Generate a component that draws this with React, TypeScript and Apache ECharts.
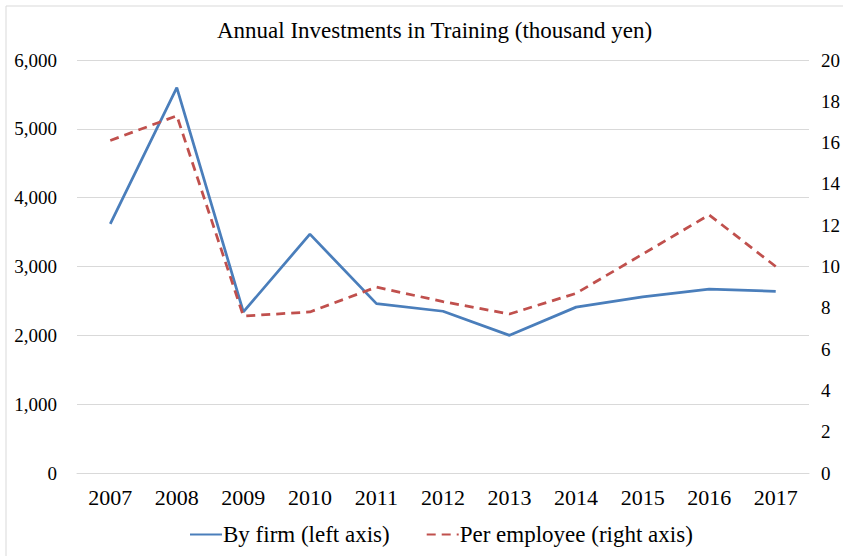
import React, { useEffect, useRef } from "react";
import * as echarts from "echarts";

const years = ["2007", "2008", "2009", "2010", "2011", "2012", "2013", "2014", "2015", "2016", "2017"];
const byFirm = [3620, 5600, 2340, 3470, 2460, 2350, 2000, 2410, 2560, 2670, 2640];
const perEmployee = [16.1, 17.3, 7.6, 7.8, 9.0, 8.3, 7.7, 8.7, 10.6, 12.5, 10.0];
const titleText = "Annual Investments in Training (thousand yen)";
const seriesNames = ["By firm (left axis)", "Per employee (right axis)"];

const FONT = "'Liberation Serif', 'Times New Roman', serif";

export default function App() {
  const ref = useRef<HTMLDivElement>(null);
  useEffect(() => {
    if (!ref.current) return;
    const chart = echarts.init(ref.current, undefined, { renderer: "svg" });
    chart.setOption({
      animation: false,
      backgroundColor: "#ffffff",
      title: {
        text: titleText,
        left: 212,
        top: 14,
        textStyle: { fontFamily: FONT, fontSize: 23, fontWeight: "normal", color: "#000" },
      },
      graphic: [
        {
          type: "rect",
          shape: { x: 6, y: 6, width: 860, height: 580 },
          style: { fill: "none", stroke: "#d9d9d9", lineWidth: 1 },
          silent: true,
        },
      ],
      legend: {
        bottom: 5,
        left: 184,
        itemWidth: 32,
        itemHeight: 14,
        itemGap: 36,
        itemStyle: { opacity: 0 },
        textStyle: { fontFamily: FONT, fontSize: 23, color: "#000", padding: [0, 0, 0, -4] },
        data: seriesNames,
      },
      grid: { left: 77, right: 33, top: 60, bottom: 83, containLabel: false },
      xAxis: {
        type: "category",
        data: years,
        boundaryGap: true,
        axisLine: { show: true, lineStyle: { color: "#d9d9d9", width: 1 } },
        axisTick: { show: false },
        axisLabel: { fontFamily: FONT, fontSize: 22, color: "#000", margin: 13 },
      },
      yAxis: [
        {
          type: "value",
          min: 0,
          max: 6000,
          interval: 1000,
          axisLine: { show: false },
          axisTick: { show: false },
          splitLine: { show: true, lineStyle: { color: "#d9d9d9", width: 1 } },
          axisLabel: {
            fontFamily: FONT,
            fontSize: 19,
            color: "#000",
            margin: 20,
            formatter: (v: number) => v.toLocaleString("en-US"),
          },
        },
        {
          type: "value",
          min: 0,
          max: 20,
          interval: 2,
          axisLine: { show: false },
          axisTick: { show: false },
          splitLine: { show: false },
          axisLabel: { fontFamily: FONT, fontSize: 19, color: "#000", margin: 12 },
        },
      ],
      series: [
        {
          name: seriesNames[0],
          type: "line",
          yAxisIndex: 0,
          data: byFirm,
          symbol: "none",
          lineStyle: { color: "#4a7ebb", width: 2.75 },
          itemStyle: { color: "#4a7ebb" },
        },
        {
          name: seriesNames[1],
          type: "line",
          yAxisIndex: 1,
          data: perEmployee,
          symbol: "none",
          lineStyle: { color: "#c0504d", width: 2.75, type: [9, 6] },
          itemStyle: { color: "#c0504d" },
        },
      ],
    });
    return () => chart.dispose();
  }, []);
  return (
    <div
      ref={ref}
      style={{ position: "absolute", left: 0, top: 0, width: 843, height: 556 }}
    />
  );
}
